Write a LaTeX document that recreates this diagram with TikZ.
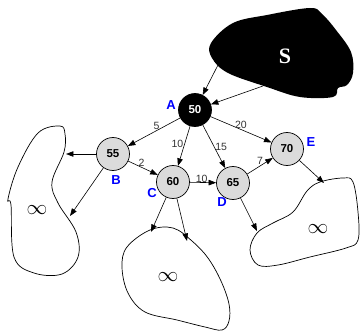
\documentclass[tikz,border=0pt]{standalone}
\usepackage{fontspec}
\setmainfont{Liberation Sans}
\newfontfamily\serifbold{Liberation Serif}
\usetikzlibrary{arrows.meta}
\begin{document}
\begin{tikzpicture}[x=1pt,y=-1pt,
  vertex/.style={circle,draw=black,line width=0.7pt,fill=gray!28,minimum size=33pt,inner sep=0pt,font=\fontsize{11.5}{12}\selectfont\bfseries},
  source/.style={vertex,fill=black,text=white},
  tag/.style={text=blue,font=\fontsize{13}{14}\selectfont\bfseries},
  weight/.style={font=\fontsize{10.5}{11}\selectfont,text=black!80,inner sep=1pt},
  edge/.style={-{Triangle[length=7.5pt,width=5.5pt]},line width=0.6pt},
  blob/.style={draw=black,line width=0.7pt,fill=white},
  inf/.style={font=\fontsize{22}{22}\selectfont}
]
\useasboundingbox (0,0) rectangle (360,332);

% sets of unreached vertices
\draw[blob] plot[smooth cycle,tension=0.6] coordinates {
  (60,126) (65,134) (64,152) (52,182) (58,203) (76,232) (78,257)
  (62,274) (34,273) (14,257) (11,205) (8,199) (18,167) (38,133)};
\node[inf] (infB) at (37,210) {$\infty$};

\draw[blob] plot[smooth cycle,tension=0.6] coordinates {
  (150,230) (173,228) (192,241) (208,258) (221,281) (229,304) (229,321)
  (222,330) (205,327) (177,320) (145,312) (128,293) (122,267) (127,247)};
\node[inf] (infC) at (168,277) {$\infty$};

\draw[blob] plot[smooth cycle,tension=0.6] coordinates {
  (343,178) (320,182) (307,191) (293,212) (273,223) (257,233) (250,250)
  (258,265) (278,265) (310,257) (346,248) (358,240) (358,212) (353,182)};
\node[inf] (infE) at (318,229) {$\infty$};

% source region
\fill[black] plot[smooth cycle,tension=0.6] coordinates {
  (211,43) (233,23) (267,15) (310,8) (322,14) (336,30) (351,52) (353,73)
  (347,85) (338,88) (333,97) (300,97) (267,87) (228,73) (212,58)};
\node[text=white,font=\serifbold\fontsize{22}{22}\selectfont\bfseries] (S) at (285,56) {S};

% vertices
\node[source] (A) at (195,110) {50};
\node[vertex] (B) at (113,154) {55};
\node[vertex] (C) at (173,182) {60};
\node[vertex] (D) at (233,183) {65};
\node[vertex] (E) at (287,149) {70};

\node[tag] (tA) at (171,105) {A};
\node[tag] (tB) at (116,180) {B};
\node[tag] (tC) at (152,193) {C};
\node[tag] (tD) at (222,202) {D};
\node[tag] (tE) at (311,142) {E};

% arrow endpoints on the regions
\coordinate (s1) at (218,65);
\coordinate (s2) at (263,86);
\coordinate (b1) at (66,154);
\coordinate (b2) at (70,216);
\coordinate (c1) at (151,232);
\coordinate (c2) at (187,241);
\coordinate (d1) at (257,231);
\coordinate (e1) at (324,183);

\draw[edge] (s1) -- (A);
\draw[edge] (s2) -- (A);

\draw[edge] (A) -- node[weight,above,pos=0.45] (w5) {5} (B);
\draw[edge] (A) -- node[weight,left,pos=0.45] (w10) {10} (C);
\draw[edge] (A) -- node[weight,right,pos=0.5] (w15) {15} (D);
\draw[edge] (A) -- node[weight,above,pos=0.5] (w20) {20} (E);
\draw[edge] (B) -- node[weight,above,pos=0.45] (w2) {2} (C);
\draw[edge] (C) -- node[weight,above,pos=0.45,yshift=-1pt] (w10b) {10} (D);
\draw[edge] (D) -- node[weight,above,pos=0.5] (w7) {7} (E);

\draw[edge] (B) -- (b1);
\draw[edge] (B) -- (b2);
\draw[edge] (C) -- (c1);
\draw[edge] (C) -- (c2);
\draw[edge] (D) -- (d1);
\draw[edge] (E) -- (e1);
\end{tikzpicture}
\end{document}
